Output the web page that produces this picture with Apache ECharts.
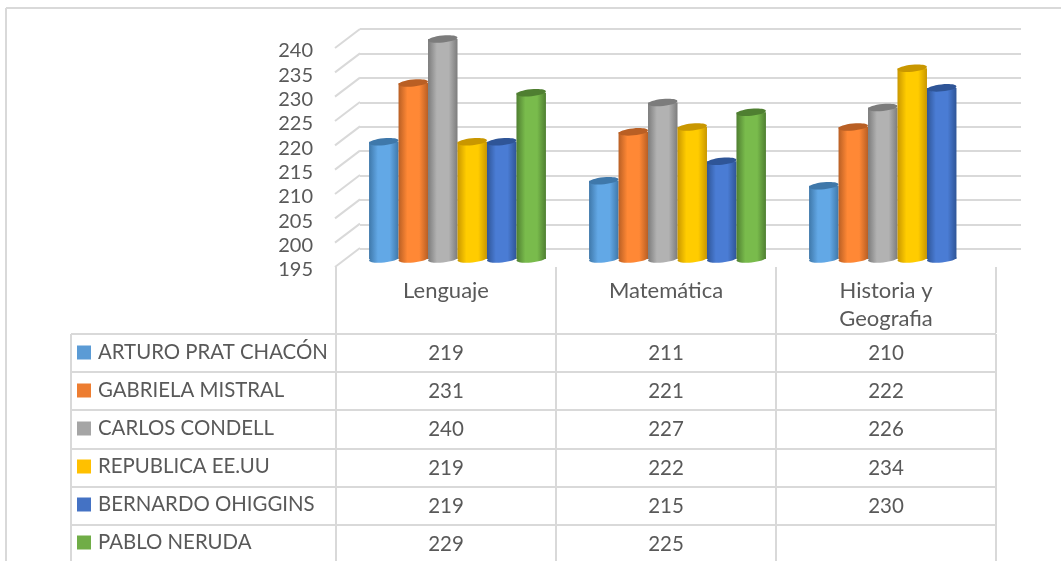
<!DOCTYPE html>
<html>
<head>
<meta charset="utf-8">
<style>
html, body { margin:0; padding:0; background:#fff; }
#main { width:1061px; height:561px; }
</style>
<script src="https://cdn.jsdelivr.net/npm/echarts@6/dist/echarts.min.js"></script>
</head>
<body>
<div id="main"></div>
<script>
const categories = ['Lenguaje', 'Matemática', 'Historia y\nGeografia'];
const schools = ['ARTURO PRAT CHACÓN', 'GABRIELA MISTRAL', 'CARLOS CONDELL', 'REPUBLICA EE.UU', 'BERNARDO OHIGGINS', 'PABLO NERUDA'];
const arturo = [219, 211, 210];
const gabriela = [231, 221, 222];
const carlos = [240, 227, 226];
const republica = [219, 222, 234];
const bernardo = [219, 215, 230];
const pablo = [229, 225, null];
const allValues = [arturo, gabriela, carlos, republica, bernardo, pablo];
const yTicks = [195, 200, 205, 210, 215, 220, 225, 230, 235, 240];

// colour of the legend key, then dark edge / light middle of the cylinder
const colors = [
  ['#5b9bd5', '#3f78aa', '#62a8e6'],
  ['#ed7d31', '#b95f24', '#ff8835'],
  ['#a5a5a5', '#7c7c7c', '#b2b2b2'],
  ['#ffc000', '#c99700', '#ffcc00'],
  ['#4472c4', '#2f5597', '#4a7cd4'],
  ['#70ad47', '#4f7f31', '#79bb4c']
];

const LINE = '#d9d9d9';
const TEXT = '#595959';
const FONT = 'Lato';

// cylinder: body with side shading, darker top cap
function cylinder(params, api) {
  const v = api.value(1);
  if (isNaN(v) || v === null) return;
  const band = api.size([1, 0])[0];
  const w = band * 0.134;
  const center = api.coord([api.value(0), v])[0];
  const x = center + (params.seriesIndex - 2.5) * w - w / 2;
  const top = api.coord([api.value(0), v])[1];
  const base = api.coord([api.value(0), 195])[1];
  const c = colors[params.seriesIndex];
  const shade = {
    type: 'linear', x: 0, y: 0, x2: 1, y2: 0,
    colorStops: [
      { offset: 0, color: c[1] },
      { offset: 0.3, color: c[2] },
      { offset: 0.7, color: c[2] },
      { offset: 1, color: c[1] }
    ]
  };
  const tilt = 0.1;
  return {
    type: 'group',
    children: [
      { type: 'ellipse', shape: { cx: x + w / 2, cy: base, rx: w / 2, ry: 3.5 }, rotation: tilt, originX: x + w / 2, originY: base, style: { fill: shade } },
      { type: 'rect', shape: { x: x, y: top, width: w, height: base - top }, style: { fill: shade } },
      { type: 'ellipse', shape: { cx: x + w / 2, cy: top, rx: w / 2, ry: 3.5 }, rotation: tilt, originX: x + w / 2, originY: top, style: { fill: c[1] } }
    ]
  };
}

// depth lines of the 3d floor/wall, from front axis to back wall
function depthLine(params, api) {
  const y = api.coord([0, api.value(0)])[1];
  const x = params.coordSys.x;
  return {
    type: 'line',
    shape: { x1: x - 1, y1: y, x2: x + 24, y2: y - 19 },
    style: { stroke: LINE, lineWidth: 2 }
  };
}

const series = schools.map((name, i) => ({
  name: name,
  type: 'custom',
  xAxisIndex: 0,
  yAxisIndex: 0,
  renderItem: cylinder,
  itemStyle: { color: colors[i][0] },
  encode: { x: 0, y: 1 },
  data: allValues[i].map((v, k) => [k, v]),
  z: 5
}));
series.push({
  type: 'custom',
  xAxisIndex: 1,
  yAxisIndex: 1,
  renderItem: depthLine,
  encode: { y: 0 },
  data: yTicks.map(v => [v]),
  z: 1,
  silent: true
});

// data table below the chart
const colX = [336, 556, 776, 996];
const rowY = [334, 372, 410, 449, 487, 525];
const graphic = [];
function addLine(x1, y1, x2, y2) {
  graphic.push({ type: 'line', shape: { x1, y1, x2, y2 }, style: { stroke: LINE, lineWidth: 2 }, silent: true });
}
addLine(6, 8, 1061, 8);
addLine(6, 8, 6, 561);
rowY.forEach(y => addLine(71, y, 996, y));
addLine(71, 334, 71, 561);
colX.forEach(x => addLine(x, 334, x, 561));
allValues.forEach((vals, r) => {
  vals.forEach((v, k) => {
    if (v === null) return;
    graphic.push({
      type: 'text',
      x: (colX[k] + colX[k + 1]) / 2,
      y: rowY[r] + 19.5,
      style: { text: String(v), fill: TEXT, font: '20.5px ' + FONT, textAlign: 'center', textVerticalAlign: 'middle' },
      silent: true
    });
  });
});

const chart = echarts.init(document.getElementById('main'));
chart.setOption({
  animation: false,
  backgroundColor: '#fff',
  textStyle: { fontFamily: FONT },
  legend: {
    orient: 'vertical',
    left: 77,
    top: 342.5,
    height: 216,
    itemWidth: 14,
    itemHeight: 14,
    itemGap: 18,
    icon: 'rect',
    selectedMode: false,
    padding: 0,
    data: schools,
    textStyle: { color: TEXT, fontSize: 20.4, fontFamily: FONT, padding: [0, 0, 0, 2] }
  },
  grid: [
    { left: 347.5, width: 660, top: 39, height: 220 },   // bars
    { left: 336, width: 660, top: 48, height: 219 },   // front edge and header
    { left: 360, width: 661, top: 29, height: 220 },   // back wall
    { left: 336, width: 660, top: 51, height: 219 }    // tick labels, sit a bit under the front edge
  ],
  xAxis: [
    { type: 'category', gridIndex: 0, data: categories, show: false },
    {
      type: 'category', gridIndex: 1, data: categories,
      axisLine: { show: false },
      axisTick: { show: true, length: 66, lineStyle: { color: LINE, width: 2 } },
      axisLabel: { color: TEXT, fontSize: 22, fontFamily: FONT, margin: 10, lineHeight: 28 }
    },
    { type: 'category', gridIndex: 2, data: categories, show: false },
    { type: 'category', gridIndex: 3, data: categories, show: false }
  ],
  yAxis: [
    { type: 'value', gridIndex: 0, min: 195, max: 240, interval: 5, show: false },
    { type: 'value', gridIndex: 1, min: 195, max: 240, interval: 5, show: false },
    {
      type: 'value', gridIndex: 2, min: 195, max: 240, interval: 5,
      axisLine: { show: false },
      axisTick: { show: false },
      axisLabel: { show: false },
      splitLine: { show: true, lineStyle: { color: LINE, width: 2 } }
    },
    {
      type: 'value', gridIndex: 3, min: 195, max: 240, interval: 5,
      axisLine: { show: false },
      axisTick: { show: false },
      splitLine: { show: false },
      axisLabel: { color: TEXT, fontSize: 20, fontFamily: FONT, margin: 23 }
    }
  ],
  graphic: graphic,
  series: series
});
</script>
</body>
</html>
